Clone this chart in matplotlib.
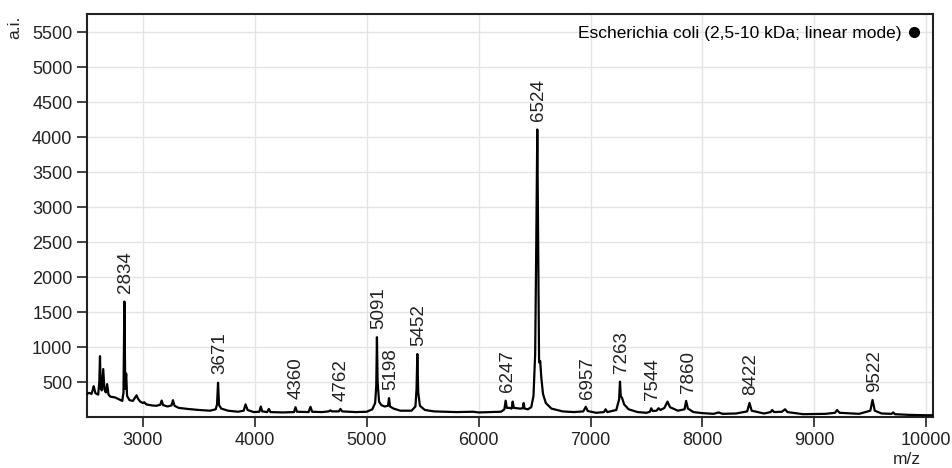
import matplotlib
matplotlib.use('Agg')
import matplotlib.pyplot as plt

plt.rcParams['font.family'] = ['Liberation Sans', 'DejaVu Sans']

# trace points (m/z, a.i.)
mz = [2500, 2520, 2540, 2550, 2560, 2575, 2600, 2610, 2616, 2622, 2632, 2645, 2655, 2668, 2680, 2692,
      2710, 2750, 2790, 2815, 2826, 2834, 2842, 2850, 2858, 2880, 2910, 2930, 2943, 2956, 2975,
      3000, 3012, 3030, 3080, 3120, 3155, 3167, 3180, 3220, 3255, 3268, 3282, 3320, 3400, 3500,
      3600, 3650, 3662, 3671, 3680, 3700, 3760, 3850, 3900, 3917, 3935, 3990,
      4040, 4053, 4066, 4110, 4125, 4140, 4250, 4350, 4363, 4376, 4480, 4497, 4512,
      4600, 4660, 4675, 4690, 4750, 4765, 4780, 4900,
      5000, 5050, 5075, 5085, 5091, 5097, 5110, 5130, 5160, 5190, 5199, 5208, 5240, 5300,
      5400, 5435, 5445, 5452, 5460, 5475, 5520, 5600, 5800, 5950,
      6000, 6100, 6200, 6230, 6241, 6252, 6275, 6295, 6304, 6315, 6370, 6395, 6402, 6410,
      6440, 6470, 6490, 6505, 6515, 6524, 6531, 6540, 6550, 6560, 6575, 6600, 6650, 6750,
      6850, 6935, 6957, 6975,
      7050, 7120, 7134, 7150, 7230, 7255, 7263, 7270, 7282, 7300, 7340, 7420,
      7500, 7530, 7542, 7555, 7590, 7607, 7625, 7660, 7688, 7710, 7780, 7840, 7854, 7870, 7920,
      8000, 8100, 8143, 8180, 8300, 8400, 8420, 8440, 8550, 8610, 8623, 8640, 8710, 8738, 8760,
      8900, 9100, 9185, 9203, 9225, 9400, 9500, 9520, 9540, 9600, 9690, 9705, 9720, 9850,
      10000, 10050]
ai = [330, 345, 330, 380, 440, 340, 320, 500, 870, 420, 380, 685, 400, 350, 470, 320,
      290, 280, 250, 230, 350, 1650, 400, 620, 300, 240, 230, 280, 310, 260, 220,
      200, 210, 180, 165, 160, 175, 235, 170, 150, 165, 240, 160, 130, 115, 100,
      90, 110, 180, 490, 170, 120, 90, 75, 90, 180, 100, 70,
      75, 150, 80, 70, 115, 70, 65, 70, 140, 75, 70, 145, 75,
      70, 80, 95, 80, 80, 115, 80, 70,
      75, 110, 200, 450, 1140, 500, 220, 170, 150, 160, 270, 150, 120, 90,
      90, 150, 400, 900, 350, 160, 100, 80, 70, 75,
      65, 70, 75, 110, 233, 130, 130, 120, 220, 130, 120, 125, 200, 120,
      110, 140, 300, 900, 2500, 4110, 2700, 780, 800, 560, 330, 200, 120, 80,
      70, 80, 145, 85,
      60, 70, 110, 70, 100, 250, 505, 300, 270, 180, 110, 70,
      60, 75, 125, 85, 90, 125, 100, 130, 220, 140, 90, 110, 230, 120, 70,
      55, 45, 65, 45, 50, 80, 200, 90, 50, 70, 100, 70, 75, 110, 70,
      40, 45, 60, 100, 60, 45, 90, 243, 90, 50, 45, 65, 40, 30,
      25, 25]

# labelled peaks
peak_mz = [2834, 3671, 4360, 4762, 5091, 5198, 5452, 6247, 6524, 6957, 7263, 7544, 7860, 8422, 9522]
peak_ai = [1650, 490, 140, 115, 1140, 270, 900, 233, 4110, 145, 505, 125, 230, 200, 243]

fig = plt.figure(figsize=(9.52, 4.68), dpi=100)
ax = fig.add_axes([0.0914, 0.109, 0.8886, 0.861])

ax.plot(mz, ai, color='black', lw=1.6, zorder=3)

for m, h in zip(peak_mz, peak_ai):
    ax.annotate(str(m), (m, h), xytext=(1, 6), textcoords='offset points',
                rotation=90, ha='center', va='bottom', fontsize=13.5, color='#222222')

ax.plot([], [], 'o', color='black', ms=7, label='Escherichia coli (2,5-10 kDa; linear mode)')
ax.legend(loc='upper right', markerfirst=False, frameon=False, fontsize=12.5,
          handletextpad=0.3, borderaxespad=0.3, handlelength=0.8)

ax.set_xlim(2500, 10060)
ax.set_ylim(0, 5760)
ax.set_xticks(range(3000, 10001, 1000))
ax.set_yticks(range(500, 5501, 500))
ax.grid(True, color='#e4e4e4', lw=1.0, zorder=0)
ax.set_axisbelow(True)
ax.tick_params(direction='out', length=7, width=1.2, labelsize=13, colors='#222222')
for s in ax.spines.values():
    s.set_linewidth(1.5)
    s.set_color('#222222')

fig.text(0.016, 0.967, 'a.i.', rotation=90, ha='center', va='top', fontsize=12.5, color='#222222')
fig.text(0.953, 0.003, 'm/z', ha='center', va='bottom', fontsize=12.5, color='#222222')

fig.savefig('out.png', dpi=100)
